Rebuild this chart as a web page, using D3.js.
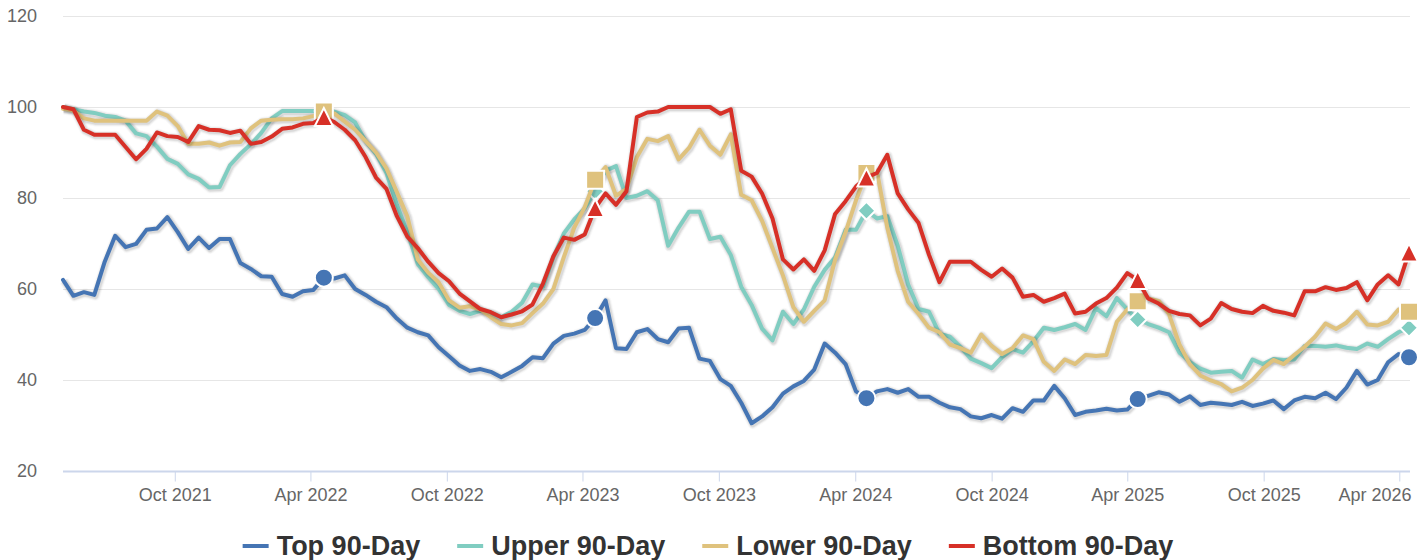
<!DOCTYPE html>
<html>
<head>
<meta charset="utf-8">
<script src="https://cdn.jsdelivr.net/npm/d3@7"></script>
<style>
  body { margin: 0; background: #fff; }
  svg { display: block; font-family: "Liberation Sans", Arial, sans-serif; }
</style>
</head>
<body>
<script>
var seriesNames = ["Top 90-Day", "Upper 90-Day", "Lower 90-Day", "Bottom 90-Day"];
var seriesColors = ["#4575b4", "#80cdc1", "#dfc27d", "#d73027"];
var seriesSymbols = ["circle", "diamond", "square", "triangle"];

// one reading every two weeks, starting here
var startDate = "2021-05-04";
var stepDays = 14;
// yearly markers
var markerIdx = [25, 51, 77, 103, 129];

var tickDates = ["2021-10-01", "2022-04-01", "2022-10-01", "2023-04-01", "2023-10-01",
                 "2024-04-01", "2024-10-01", "2025-04-01", "2025-10-01", "2026-04-01"];
var yTicks = [20, 40, 60, 80, 100, 120];

var top90 = [62, 58.5, 59.3, 58.7, 66, 71.7, 69.2, 69.9, 73, 73.3,
  75.8, 72.5, 68.8, 71.3, 69, 71, 71, 65.7, 64.4, 62.8,
  62.7, 58.9, 58.3, 59.5, 59.8, 62.5, 62.3, 63, 60, 58.7,
  57.2, 56, 53.5, 51.5, 50.5, 49.8, 47.2, 45.2, 43.2, 42,
  42.4, 41.8, 40.6, 41.8, 43.1, 45, 44.8, 48, 49.7, 50.2,
  51, 53.6, 57.5, 47, 46.8, 50.5, 51.2, 49, 48.3, 51.3,
  51.5, 44.7, 44.2, 40.2, 38.7, 35, 30.5, 32, 34, 37,
  38.6, 39.8, 42.3, 48, 46, 43.5, 37.5, 36, 37.5, 38,
  37.2, 38, 36.3, 36.3, 35, 34, 33.6, 32, 31.6, 32.3,
  31.5, 33.8, 33, 35.5, 35.5, 38.7, 36, 32.3, 33, 33.3,
  33.7, 33.3, 33.5, 35.8, 36.5, 37.3, 36.8, 35.2, 36.4, 34.5,
  35, 34.8, 34.5, 35.2, 34.3, 34.8, 35.5, 33.6, 35.5, 36.3,
  36, 37.2, 35.8, 38.3, 42, 39, 40, 43.9, 45.7, 45];

var upper90 = [100, 99.5, 99, 98.7, 98.1, 97.8, 97, 94.2, 93.6, 91.3,
  88.6, 87.5, 85.2, 84.2, 82.3, 82.4, 87.2, 89.7, 91.8, 94.3,
  97.5, 99.1, 99.1, 99.1, 99.1, 99.1, 99, 98.2, 96.6, 92.5,
  89.7, 85.5, 78.5, 72.5, 65.5, 62.6, 60, 56.5, 55.2, 54.5,
  55.2, 54.8, 53.8, 55, 57, 61, 60.5, 67, 72.2, 75.3,
  77.7, 81.5, 86, 87, 80, 80.5, 81.5, 79.5, 69.5, 73.5,
  77, 77, 71, 71.5, 67.5, 60.5, 56.5, 51.3, 48.7, 55,
  52.3, 55.5, 60.5, 64.2, 67, 73, 73, 77.2, 75.5, 76,
  69.5, 61, 55.6, 55, 50.2, 49.5, 47.3, 44.7, 43.7, 42.6,
  45, 46.8, 46, 48.5, 51.5, 51, 51.6, 52.3, 51, 55.8,
  54, 58, 55.5, 53.3, 52.3, 51.5, 50.5, 46, 44, 42.5,
  41.6, 41.8, 42, 40.5, 44.5, 43.5, 44.6, 44.4, 44.5, 47.5,
  47.5, 47.3, 47.6, 47.1, 46.8, 48, 47.3, 49, 50.5, 51.5];

var lower90 = [99.6, 99.2, 97.5, 97, 97, 97, 97, 97, 97, 99,
  98.1, 95.8, 91.9, 91.9, 92.2, 91.5, 92.2, 92.3, 95.3, 97,
  97.2, 97.3, 97.3, 97.5, 98, 99, 98.6, 96.8, 95, 92.5,
  90, 86.5, 81.3, 76, 66.5, 63.6, 61.5, 57.5, 55.9, 56.2,
  55.5, 53.8, 52.3, 52, 52.5, 54.7, 56.8, 60, 67, 73.5,
  78, 84, 86.8, 80.5, 82, 89, 93, 92.5, 93.6, 88.5,
  91, 95, 91.5, 89.5, 94, 80.7, 79.5, 75, 69, 63,
  56, 52.8, 55.2, 57.5, 66.5, 72.5, 79.5, 85.5, 86, 73.5,
  64, 57.2, 54.5, 51.5, 50.5, 47.8, 47, 46, 50, 47.5,
  45.7, 47, 49.8, 49, 44, 42, 44.5, 43.5, 45.5, 45.3,
  45.5, 52.8, 55.5, 57.3, 57.9, 57.4, 54.5, 47.8, 43.5, 41,
  39.9, 39.1, 37.5, 38.3, 40, 42.5, 44.4, 43.5, 45.5, 47.3,
  49.5, 52.4, 51.2, 52.6, 55, 52.2, 52, 52.8, 55.5, 55];

var bottom90 = [100, 99.5, 95, 93.9, 93.9, 93.9, 91.2, 88.5, 90.8, 94.4,
  93.6, 93.4, 92.3, 95.8, 95, 94.9, 94.3, 94.8, 91.9, 92.3,
  93.5, 95.2, 95.5, 96.3, 96.5, 97.8, 96.7, 95, 92.7, 89,
  84.5, 82, 76, 71.5, 69, 66, 63.5, 61.7, 59, 57.3,
  55.6, 54.9, 53.8, 54.4, 55.1, 56.6, 61.2, 67.2, 71.3, 70.8,
  72, 77.8, 81, 78.5, 81.5, 97.8, 98.8, 99, 100, 100,
  100, 100, 100, 98.5, 99.5, 86, 84.7, 81, 75.5, 66.5,
  64.3, 66.5, 64, 68.5, 76.5, 79.3, 82.5, 84.5, 85.5, 89.5,
  81, 77.5, 74.5, 67.5, 61.5, 66, 66, 66, 64.2, 62.7,
  64.5, 62.5, 58.3, 58.7, 57.2, 58, 59, 54.6, 55, 56.8,
  58, 60.3, 63.5, 62, 57.9, 56.8, 55.2, 54.5, 54.2, 52,
  53.5, 56.9, 55.6, 55, 54.7, 56.3, 55.2, 54.8, 54.2, 59.5,
  59.5, 60.4, 59.8, 60.2, 61.5, 57.5, 61, 63, 61, 68];

var allSeries = [top90, upper90, lower90, bottom90];

var width = 1422,
    height = 560,
    left = 63,
    right = 1409,
    plotTop = 16,
    plotBottom = 471;

var parseDate = d3.timeParse("%Y-%m-%d");
var t0 = parseDate(startDate);
var dates = top90.map(function(v, i) { return d3.timeDay.offset(t0, i * stepDays); });

var x = d3.scaleTime()
    .domain([dates[0], dates[dates.length - 1]])
    .range([left, right]);

var y = d3.scaleLinear()
    .domain([20, 120])
    .range([plotBottom, plotTop]);

var svg = d3.select("body").append("svg")
    .attr("width", width)
    .attr("height", height);

// horizontal grid
svg.append("g")
    .selectAll("line")
    .data(yTicks.slice(1))
    .enter()
    .append("line")
    .attr("x1", left)
    .attr("x2", right + 1)
    .attr("y1", function(d) { return Math.round(y(d)) + 0.5; })
    .attr("y2", function(d) { return Math.round(y(d)) + 0.5; })
    .style("stroke", "#e6e6e6")
    .style("stroke-width", 1);

// y labels
var yAxis = svg.append("g")
    .attr("transform", "translate(" + left + ",0)")
    .call(d3.axisLeft(y).tickValues(yTicks).tickSize(0).tickPadding(26));
yAxis.select(".domain").remove();
yAxis.selectAll("text")
    .style("font-family", "'Liberation Sans', Arial, sans-serif")
    .style("font-size", "18px")
    .style("fill", "#666");

// x axis
var xAxis = svg.append("g")
    .attr("transform", "translate(0," + (plotBottom + 0.5) + ")")
    .call(d3.axisBottom(x)
        .tickValues(tickDates.map(parseDate))
        .tickSize(10)
        .tickPadding(7)
        .tickFormat(d3.timeFormat("%b %Y")));
xAxis.select(".domain").remove();
xAxis.append("line")
    .attr("x1", left)
    .attr("x2", right + 1)
    .style("stroke", "#ccd6eb")
    .style("stroke-width", 2);
xAxis.selectAll(".tick line").style("stroke", "#ccd6eb");
xAxis.selectAll("text")
    .style("font-family", "'Liberation Sans', Arial, sans-serif")
    .style("font-size", "18px")
    .style("fill", "#666");

// keep the last label inside the plot, the way the original shifts it
xAxis.selectAll(".tick").each(function(d) {
    var t = d3.select(this).select("text");
    var half = this.querySelector("text").getComputedTextLength() / 2;
    var over = x(d) + half - (right + 2);
    if (over > 0) t.attr("x", -over);
});

function symbolPath(type, cx, cy, r) {
    if (type == "circle") {
        return "M" + (cx - r) + "," + cy + "A" + r + "," + r + " 0 1,1 " + (cx + r) + "," + cy +
               "A" + r + "," + r + " 0 1,1 " + (cx - r) + "," + cy + "Z";
    } else if (type == "square") {
        return "M" + (cx - r) + "," + (cy - r) + "H" + (cx + r) + "V" + (cy + r) + "H" + (cx - r) + "Z";
    } else if (type == "diamond") {
        return "M" + cx + "," + (cy - r) + "L" + (cx + r) + "," + cy + "L" + cx + "," + (cy + r) +
               "L" + (cx - r) + "," + cy + "Z";
    } else {
        return "M" + cx + "," + (cy - r) + "L" + (cx + r) + "," + (cy + r) + "L" + (cx - r) + "," + (cy + r) + "Z";
    }
}

var line = d3.line()
    .x(function(d) { return x(d.date); })
    .y(function(d) { return y(d.value); });

allSeries.forEach(function(values, s) {
    var pts = values.map(function(v, i) { return {date: dates[i], value: v}; });
    var g = svg.append("g").attr("class", "series");

    // soft shadow under the line
    [[10, 0.05], [8, 0.1], [6, 0.15]].forEach(function(sh) {
        g.append("path")
            .datum(pts)
            .attr("d", line)
            .attr("transform", "translate(1,1)")
            .style("fill", "none")
            .style("stroke", "#000")
            .style("stroke-opacity", sh[1] * 0.5)
            .style("stroke-width", sh[0])
            .style("stroke-linejoin", "round");
    });

    g.append("path")
        .datum(pts)
        .attr("d", line)
        .style("fill", "none")
        .style("stroke", seriesColors[s])
        .style("stroke-width", 4)
        .style("stroke-linejoin", "round")
        .style("stroke-linecap", "round");

    g.selectAll(".marker")
        .data(markerIdx.map(function(i) { return pts[i]; }))
        .enter()
        .append("path")
        .attr("class", "marker")
        .attr("d", function(d) { return symbolPath(seriesSymbols[s], x(d.date), y(d.value), 9); })
        .style("fill", seriesColors[s])
        .style("stroke", "#fff")
        .style("stroke-width", 2);
});

// legend
var legend = svg.append("g");
var items = legend.selectAll("g")
    .data(seriesNames)
    .enter()
    .append("g");
items.append("line")
    .attr("x1", 0).attr("x2", 26)
    .attr("y1", 546).attr("y2", 546)
    .style("stroke", function(d, i) { return seriesColors[i]; })
    .style("stroke-width", 4);
items.append("text")
    .attr("x", 34)
    .attr("y", 555)
    .style("font-size", "27px")
    .style("font-weight", "bold")
    .style("fill", "#333")
    .text(function(d) { return d; });

var widths = [];
items.selectAll("text").each(function() { widths.push(34 + this.getComputedTextLength()); });
var gap = 37;
var total = d3.sum(widths) + gap * (widths.length - 1);
var cursor = (width - total) / 2 - 3;
items.attr("transform", function(d, i) {
    var tx = cursor;
    cursor += widths[i] + gap;
    return "translate(" + tx + ",0)";
});
</script>
</body>
</html>
